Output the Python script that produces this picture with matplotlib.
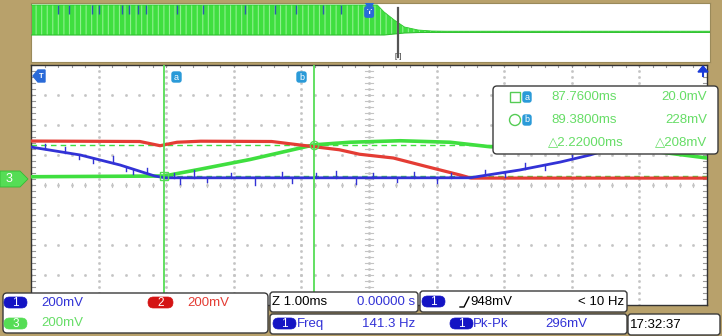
import matplotlib
matplotlib.use("Agg")
import matplotlib.pyplot as plt
from matplotlib.patches import FancyBboxPatch, Rectangle, Polygon, Circle

# ---------------- data ----------------
# main window: time in ms, channel values in mV (relative to ground)
t_center = 90.79          # ms at screen centre, 1 ms/div
volts_per_div = 200       # mV/div for all channels
ground_offset = 40        # ground marker sits 0.2 div above centre

ch1_t = [85.79, 86.52, 87.11, 87.62, 87.77, 92.28, 93.02, 93.62, 94.06, 94.80, 95.79]
ch1_mv = [213, 160, 93, 20, 8, 8, 60, 113, 160, 260, 340]
ch1_spike_t = [86.0, 86.3, 86.5, 86.7, 87.0, 87.2, 87.3, 87.5, 87.9, 88.0, 88.2, 88.4,
               88.75, 89.1, 89.5, 89.65, 90.0, 90.3, 90.6, 90.85, 91.2, 91.45, 91.8,
               92.0, 92.5, 92.8, 93.1, 93.4, 93.8]
ch1_spike_mv = [35, 40, -30, -35, 45, -25, -30, 35, 30, -40, 50, -30,
                35, -45, 40, -35, 30, 45, -40, 35, -30, 40, -35,
                30, 35, -30, 40, -35, 30]

ch2_t = [85.79, 87.40, 87.70, 87.95, 88.30, 89.35, 89.80, 90.35, 90.65, 91.15, 91.65, 92.15, 92.30, 95.79]
ch2_mv = [253, 250, 222, 245, 252, 250, 225, 195, 165, 140, 82, 25, 6, 6]

ch3_t = [85.79, 87.76, 88.29, 89.03, 89.98, 90.51, 91.25, 91.99, 92.58, 94.21, 95.09, 95.79]
ch3_mv = [15, 20, 65, 130, 228, 245, 255, 245, 215, 205, 180, 140]

cursor_t = [87.76, 89.98]
cursor_mv = [20.0, 228.0]
cursor_names = ["a", "b"]
readout_time = ["87.7600ms", "89.3800ms", "\u25b32.22000ms"]
readout_volt = ["20.0mV", "228mV", "\u25b3208mV"]

# overview (record) window: arbitrary record units 0..100, level units
ov_t = [0, 51.0, 52.0, 53.5, 55.0, 57.0, 59.0, 61.0, 100]
ov_top = [57, 57, 50, 42, 35, 32, 31, 30.8, 30.8]
ov_bot = [27, 27, 27, 28, 29, 29.5, 29.6, 29.6, 29.6]
ov_blue_t = [4, 5.6, 9, 10, 13.4, 14.4, 15.8, 17, 21.5, 25.4, 31.5, 36, 39, 43, 45.6]
ov_trig_t = 49.8
ov_zoom_t = 54.1

# channel labels
ch_labels = ["1", "2", "3"]
ch_scales = ["200mV", "200mV", "200mV"]
zoom_text = "Z 1.00ms"
pos_text = "0.00000 s"
trig_level = "948mV"
trig_freq = "< 10 Hz"
meas_names = ["Freq", "Pk-Pk"]
meas_values = ["141.3 Hz", "296mV"]
clock_text = "17:32:37"

# ---------------- styling ----------------
BG = "#b8a16b"
BLUE = "#3232d6"
RED = "#e43c34"
GREEN = "#3fdf3f"
LGREEN = "#66dd66"
BADGE_BLUE = "#1414c4"
BADGE_RED = "#d41414"
BADGE_GREEN = "#55dd55"
FONT = ["Liberation Sans Narrow", "Liberation Sans", "DejaVu Sans"]
plt.rcParams["hatch.color"] = "#8ff08f"
plt.rcParams["hatch.linewidth"] = 0.8

W, H = 722, 336
fig = plt.figure(figsize=(W / 100, H / 100), dpi=100)
fig.patch.set_facecolor(BG)


def frac(x0, y0, x1, y1):
    return [x0 / W, (H - y1) / H, (x1 - x0) / W, (y1 - y0) / H]


# ---------------- overview window ----------------
ax_ov = fig.add_axes(frac(31, 3, 710, 62))
ax_ov.set_facecolor("white")
ax_ov.set_xlim(0, 100)
ax_ov.set_ylim(0, 59)
ax_ov.set_xticks([]); ax_ov.set_yticks([])
for s in ax_ov.spines.values():
    s.set_color("#9a8a5a"); s.set_linewidth(0.8)
ax_ov.fill_between(ov_t, ov_bot, ov_top, facecolor=GREEN, edgecolor="#8ff08f",
                   hatch="|||", lw=0, zorder=2)
ax_ov.plot(ov_t, ov_top, color="#2ec82e", lw=0.6, zorder=3)
ax_ov.plot(ov_t, ov_bot, color="#30c030", lw=0.8, zorder=3)
ax_ov.vlines(ov_blue_t, 48, 57, color="#2a5ab0", lw=1.0, zorder=4)
ax_ov.axvline(ov_zoom_t, ymin=0.08, ymax=0.92, color="#555555", lw=1.6, zorder=5)
ax_ov.text(ov_zoom_t, 1.5, "[ ]", ha="center", va="bottom", fontsize=5.5,
           color="#333333", family=FONT, zorder=6)
ax_ov.text(ov_trig_t, 50, "T", ha="center", va="center", fontsize=6, color="white",
           family=FONT, weight="bold", zorder=7,
           bbox=dict(boxstyle="round,pad=0.2", fc="#2a6ad8", ec="#2a6ad8"))
ax_ov.plot([ov_trig_t], [57], marker="v", ms=7, color="#2a6ad8", zorder=7)

# ---------------- main graticule ----------------
ax = fig.add_axes(frac(31, 65, 707, 305))
ax.set_facecolor("white")
x0, x1 = t_center - 5, t_center + 5
y_c = -ground_offset
y0, y1 = y_c - 4 * volts_per_div, y_c + 4 * volts_per_div
ax.set_xlim(x0, x1)
ax.set_ylim(y0, y1)
ax.set_xticks([]); ax.set_yticks([])
for s in ax.spines.values():
    s.set_color("#333333"); s.set_linewidth(1.0)

major_x = [x0 + i for i in range(11)]
major_y = [y0 + i * volts_per_div for i in range(9)]
minor_x = [x0 + i * 0.2 for i in range(51)]
minor_y = [y0 + i * volts_per_div / 5 for i in range(41)]
gcol = "#c4c4c4"
for mx in major_x[1:-1]:
    ax.plot([mx] * len(minor_y), minor_y, ls="none", marker="s", ms=0.9, color=gcol, zorder=1)
for my in major_y[1:-1]:
    ax.plot(minor_x, [my] * len(minor_x), ls="none", marker="s", ms=0.9, color=gcol, zorder=1)
# centre axes with ticks
tick_h = volts_per_div * 0.06
tick_w = 0.06
for mx in minor_x:
    ax.plot([mx, mx], [y_c - tick_h, y_c + tick_h], color=gcol, lw=0.8, zorder=1)
    ax.plot([mx, mx], [y1, y1 - tick_h], color="#999999", lw=0.8, zorder=1)
for my in minor_y:
    ax.plot([t_center - tick_w, t_center + tick_w], [my, my], color=gcol, lw=0.8, zorder=1)
    ax.plot([x0, x0 + tick_w], [my, my], color="#999999", lw=0.8, zorder=1)
    ax.plot([x1, x1 - tick_w], [my, my], color="#999999", lw=0.8, zorder=1)

# cursor horizontal dashed levels
for mv in cursor_mv:
    ax.axhline(mv, color=GREEN, lw=1.0, ls=(0, (4, 3)), zorder=2)

# traces
ax.plot(ch3_t, ch3_mv, color=GREEN, lw=2.6, zorder=3, solid_joinstyle="round")
ax.plot(ch2_t, ch2_mv, color=RED, lw=2.3, zorder=4, solid_joinstyle="round")
ax.plot(ch1_t, ch1_mv, color=BLUE, lw=2.0, zorder=5, solid_joinstyle="round")


def ch1_at(t):
    for i in range(len(ch1_t) - 1):
        if ch1_t[i] <= t <= ch1_t[i + 1]:
            f = (t - ch1_t[i]) / (ch1_t[i + 1] - ch1_t[i])
            return ch1_mv[i] + f * (ch1_mv[i + 1] - ch1_mv[i])
    return ch1_mv[-1]


for st, sa in zip(ch1_spike_t, ch1_spike_mv):
    base = ch1_at(st)
    ax.plot([st, st], [base, base + sa], color=BLUE, lw=1.0, zorder=5)

# cursors
for ct in cursor_t:
    ax.axvline(ct, color="#55dd55", lw=1.3, zorder=6)
ax.plot([cursor_t[0]], [cursor_mv[0]], marker="s", ms=6, mfc="none", mec="#55dd55", zorder=7)
ax.plot([cursor_t[1]], [cursor_mv[1]], marker="o", ms=6, mfc="none", mec="#55dd55", zorder=7)

# ---------------- overlay (labels / panels) ----------------
ov = fig.add_axes([0, 0, 1, 1], zorder=10)
ov.set_xlim(0, W); ov.set_ylim(H, 0)
ov.axis("off")
ov.patch.set_alpha(0)


def box(xa, ya, xb, yb, fc="white", ec="#3a3a3a", r=4, lw=1.0):
    ov.add_patch(FancyBboxPatch((xa, ya), xb - xa, yb - ya,
                                boxstyle=f"round,pad=0,rounding_size={r}",
                                fc=fc, ec=ec, lw=lw))


def badge(xa, ya, xb, yb, txt, fc, fs=8):
    ov.add_patch(FancyBboxPatch((xa, ya), xb - xa, yb - ya,
                                boxstyle=f"round,pad=0,rounding_size={(yb - ya) / 2}",
                                fc=fc, ec=fc, lw=0.5))
    ov.text((xa + xb) / 2, (ya + yb) / 2 + 0.5, txt, color="white", ha="center",
            va="center", fontsize=fs, family=FONT)


# cursor labels a / b
for (xl, lab) in [(172, cursor_names[0]), (297, cursor_names[1])]:
    ov.add_patch(FancyBboxPatch((xl, 72), 9, 10, boxstyle="round,pad=0,rounding_size=2",
                                fc="#2a9ad8", ec="#2a9ad8"))
    ov.text(xl + 4.5, 77, lab, color="white", ha="center", va="center", fontsize=6.5,
            family=FONT)

# top-left marker and top-right arrow
ov.add_patch(Polygon([[33, 76], [38, 70], [45, 70], [45, 82], [38, 82]], closed=True,
                     fc="#2a6ad8", ec="#2a6ad8"))
ov.text(41, 76, "T", color="white", ha="center", va="center", fontsize=5.5,
        family=FONT, weight="bold")
ov.add_patch(Polygon([[698, 72], [703, 66], [708, 72]], closed=True, fc="#1a3ad8", ec="#1a3ad8"))
ov.plot([703, 703], [70, 76], color="#1a3ad8", lw=1.5)

# ch3 ground marker
ov.add_patch(Polygon([[0, 171], [20, 171], [28, 179], [20, 187], [0, 187]], closed=True,
                     fc=BADGE_GREEN, ec="#33bb33", lw=0.6))
ov.text(9, 179.5, ch_labels[2], color="white", ha="center", va="center", fontsize=9,
        family=FONT)

# cursor readout box
box(493, 86, 718, 154, r=4)
ov.add_patch(Rectangle((510, 92), 10, 10, fc="none", ec="#55cc55", lw=1.0))
ov.add_patch(Circle((515, 120), 5.5, fc="none", ec="#55cc55", lw=1.0))
for yy, lab in [(97, cursor_names[0]), (120, cursor_names[1])]:
    ov.add_patch(FancyBboxPatch((523, yy - 5), 8, 10, boxstyle="round,pad=0,rounding_size=2",
                                fc="#2a9ad8", ec="#2a9ad8"))
    ov.text(527, yy, lab, color="white", ha="center", va="center", fontsize=6.5, family=FONT)
for yy, tt, vv in zip([97, 120, 142], readout_time, readout_volt):
    ov.text(617 if yy < 140 else 624, yy, tt, color=LGREEN, ha="right", va="center",
            fontsize=9.5, family=FONT)
    ov.text(707, yy, vv, color=LGREEN, ha="right", va="center", fontsize=9.5, family=FONT)

# bottom panels
box(3, 293, 268, 333)
badge(4, 297, 27, 308, ch_labels[0], BADGE_BLUE, fs=8.5)
ov.text(41, 302.5, ch_scales[0], color=BLUE, ha="left", va="center", fontsize=9.5, family=FONT)
badge(148, 297, 173, 308, ch_labels[1], BADGE_RED, fs=8.5)
ov.text(187, 302.5, ch_scales[1], color=RED, ha="left", va="center", fontsize=9.5, family=FONT)
badge(4, 318, 27, 329, ch_labels[2], BADGE_GREEN, fs=8.5)
ov.text(41, 323.5, ch_scales[2], color=LGREEN, ha="left", va="center", fontsize=9.5, family=FONT)

box(270, 292, 418, 312, r=3)
ov.text(272, 302, zoom_text, color="black", ha="left", va="center", fontsize=9.5, family=FONT)
ov.text(415, 302, pos_text, color=BLUE, ha="right", va="center", fontsize=9.5, family=FONT)

box(420, 291, 627, 312, r=3)
badge(422, 296, 445, 307, "1", BADGE_BLUE, fs=8.5)
ov.plot([460, 464, 469], [307, 307, 297], color="black", lw=1.0)
ov.text(470, 302, trig_level, color="black", ha="left", va="center", fontsize=9.5, family=FONT)
ov.text(624, 302, trig_freq, color="black", ha="right", va="center", fontsize=9.5, family=FONT)

box(270, 314, 627, 334, r=3)
badge(273, 318, 296, 329, "1", BADGE_BLUE, fs=8.5)
ov.text(297, 324, meas_names[0], color=BLUE, ha="left", va="center", fontsize=9.5, family=FONT)
ov.text(415, 324, meas_values[0], color=BLUE, ha="right", va="center", fontsize=9.5, family=FONT)
badge(450, 318, 473, 329, "1", BADGE_BLUE, fs=8.5)
ov.text(473, 324, meas_names[1], color=BLUE, ha="left", va="center", fontsize=9.5, family=FONT)
ov.text(587, 324, meas_values[1], color=BLUE, ha="right", va="center", fontsize=9.5, family=FONT)

box(628, 314, 720, 335, r=3)
ov.text(630, 324.5, clock_text, color="black", ha="left", va="center", fontsize=9.5, family=FONT)

fig.savefig("out.png", dpi=100, facecolor=BG)
